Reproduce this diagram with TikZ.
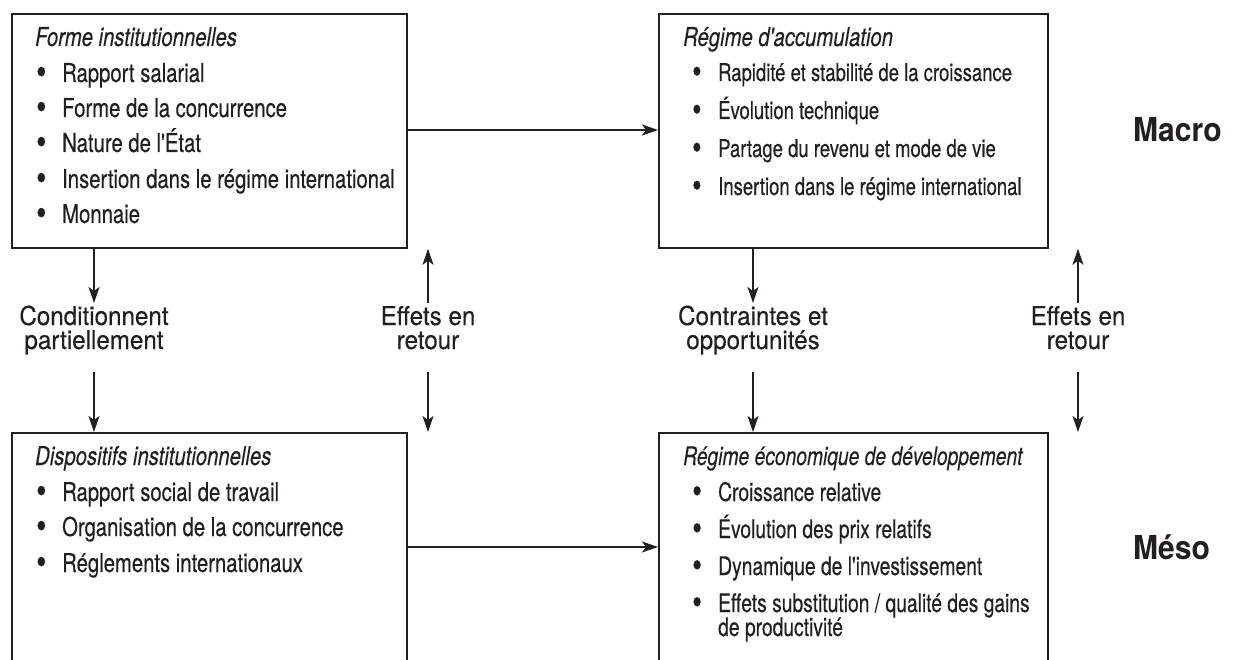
\documentclass[tikz,border=0pt]{standalone}
\usepackage{fontspec}
\setmainfont{TeX Gyre Heros}[FakeStretch=0.78, FakeBold=0.35, Ligatures=TeXOff]
\newfontfamily\smallfont{TeX Gyre Heros}[FakeStretch=0.755, FakeBold=0.35, Ligatures=TeXOff]
\newfontfamily\lblfont{TeX Gyre Heros}[FakeStretch=0.93, FakeBold=0.35, Ligatures=TeXOff]
\newfontfamily\lvlfont{TeX Gyre Heros}[FakeStretch=0.91]
\usetikzlibrary{arrows.meta}
\definecolor{ink}{HTML}{231F20}
\begin{document}
\begin{tikzpicture}[x=1pt,y=-1pt,
  box/.style={draw=ink, line width=1.8pt, inner sep=0, anchor=north west,
              minimum width=395pt, minimum height=234pt},
  openbox/.style={box, minimum height=260pt},
  txt/.style={anchor=base west, inner sep=0, text=ink, font=\fontsize{26}{28}\selectfont},
  ttl/.style={txt, font=\fontsize{26}{28}\selectfont\itshape},
  stxt/.style={txt, font=\fontsize{24.5}{28}\smallfont},
  mtxt/.style={txt, font=\fontsize{25.5}{28}\smallfont},
  sttl/.style={txt, font=\fontsize{25.5}{28}\smallfont\itshape},
  lbl/.style={anchor=base, inner sep=0, text=ink, font=\fontsize{26}{26}\lblfont},
  lvl/.style={anchor=base west, inner sep=0, text=ink, font=\fontsize{33}{33}\lvlfont\bfseries},
  arr/.style={draw=ink, line width=1.6pt, -{Stealth[length=16pt,width=11pt,inset=4pt]}}]
\useasboundingbox (0,0) rectangle (1236,660);
\clip (0,0) rectangle (1236,660);
\newcommand\bul[1]{\makebox[26pt][l]{\raisebox{-0.1em}{\scalebox{1.45}{\textbullet}}}#1}
% boxes
\node[box] (fi) at (11,13) {};
\node[box, minimum width=389pt] (ra) at (658,13) {};
\node[openbox] (di) at (11,432) {};
\node[openbox, minimum width=389pt] (re) at (658,432) {};
% top-left text
\node[ttl] (fi0) at (35,46) {Forme institutionnelles};
\node[txt] (fi1) at (36,82) {\bul{Rapport salarial}};
\node[txt] (fi2) at (36,117) {\bul{Forme de la concurrence}};
\node[txt] (fi3) at (36,152) {\bul{Nature de l'État}};
\node[txt] (fi4) at (36,188) {\bul{Insertion dans le régime international}};
\node[txt] (fi5) at (36,223) {\bul{Monnaie}};
% top-right text
\node[ttl] (ra0) at (683,46) {Régime d'accumulation};
\node[stxt] (ra1) at (692,81) {\bul{Rapidité et stabilité de la croissance}};
\node[stxt] (ra2) at (692,119) {\bul{Évolution technique}};
\node[stxt] (ra3) at (692,157) {\bul{Partage du revenu et mode de vie}};
\node[stxt] (ra4) at (692,195) {\bul{Insertion dans le régime international}};
% bottom-left text
\node[ttl] (di0) at (35,465) {Dispositifs institutionnelles};
\node[txt] (di1) at (36,501) {\bul{Rapport social de travail}};
\node[txt] (di2) at (36,536) {\bul{Organisation de la concurrence}};
\node[txt] (di3) at (36,572) {\bul{Réglements internationaux}};
% bottom-right text
\node[sttl] (re0) at (683,465) {Régime économique de développement};
\node[mtxt] (re1) at (692,501) {\bul{Croissance relative}};
\node[mtxt] (re2) at (692,538) {\bul{Évolution des prix relatifs}};
\node[mtxt] (re3) at (692,575) {\bul{Dynamique de l'investissement}};
\node[mtxt] (re4) at (692,612) {\bul{Effets substitution / qualité des gains}};
\node[mtxt] (re5) at (718,636) {de productivité};
% level labels
\node[lvl] (macro) at (1133,142) {Macro};
\node[lvl] (meso) at (1133,559) {Méso};
% link labels (two lines each)
\node[lbl] (cp1) at (94,325) {Conditionnent};
\node[lbl] (cp2) at (94,349) {partiellement};
\node[lbl] (er1a) at (428,325) {Effets en};
\node[lbl] (er1b) at (428,349) {retour};
\node[lbl] (co1) at (753,325) {Contraintes et};
\node[lbl] (co2) at (753,349) {opportunités};
\node[lbl] (er2a) at (1078,325) {Effets en};
\node[lbl] (er2b) at (1078,349) {retour};
% arrow end points
\coordinate (cpT) at (94,303);  \coordinate (cpB) at (94,372);
\coordinate (er1T) at (428,303); \coordinate (er1B) at (428,372);
\coordinate (coT) at (753,303);  \coordinate (coB) at (753,372);
\coordinate (er2T) at (1078,303); \coordinate (er2B) at (1078,372);
% vertical arrows
\draw[arr] (fi.south -| cpT) -- (cpT);
\draw[arr] (cpB) -- (di.north -| cpB);
\draw[arr] (er1T) -- (fi.south -| er1T);
\draw[arr] (er1B) -- (di.north -| er1B);
\draw[arr] (ra.south -| coT) -- (coT);
\draw[arr] (coB) -- (re.north -| coB);
\draw[arr] (er2T) -- (ra.south -| er2T);
\draw[arr] (er2B) -- (re.north -| er2B);
% horizontal arrows
\coordinate (h1) at (406,130);
\coordinate (h2) at (406,547);
\draw[arr] (h1 -| fi.east) -- (h1 -| ra.west);
\draw[arr] (h2 -| di.east) -- (h2 -| re.west);
\end{tikzpicture}
\end{document}
